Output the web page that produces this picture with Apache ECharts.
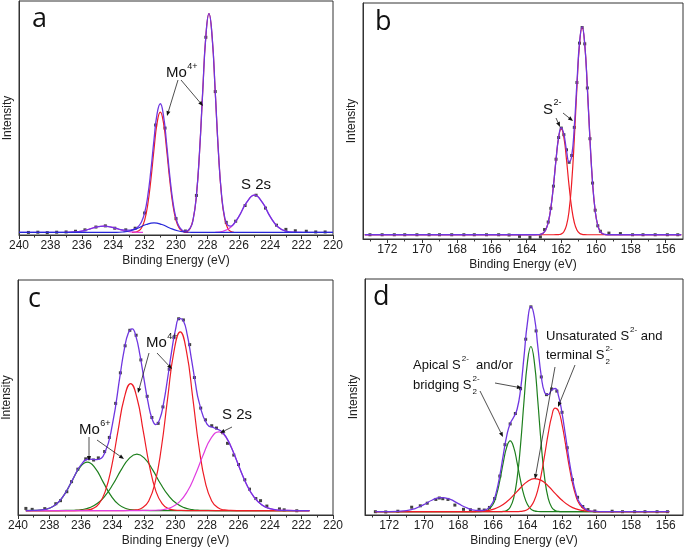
<!DOCTYPE html>
<html><head><meta charset="utf-8">
<script src="https://cdn.jsdelivr.net/npm/echarts@6/dist/echarts.min.js"></script>
<style>html,body{margin:0;padding:0;background:#fff}#c{width:685px;height:552px}</style>
</head><body><div id="c"></div>
<script>
// ---------- tick values ----------
const moTicks = [220,222,224,226,228,230,232,234,236,238,240];
const moMinor = [221,223,225,227,229,231,233,235,237,239];
const sTicks = [156,158,160,162,164,166,168,170,172];
const sMinor = [157,159,161,163,165,167,169,171,173];

// ---------- panel a (Mo 3d, fresh) ----------
const aEnv = [[240,1.1],[239,1.1],[238,1.1],[237,1.15],[236.5,1.3],[236,1.7],[235.5,2.55],[235,3.5],[234.6,3.8],[234.2,3.5],[233.8,2.8],[233.4,2.2],[233.0,2.05],[232.8,2.26],[232.6,2.72],[232.4,3.64],[232.2,5.54],[232.0,9.4],[231.8,16.6],[231.6,27.6],[231.4,40.8],[231.2,52.0],[231.0,56.1],[230.8,51.1],[230.6,39.2],[230.4,25.5],[230.2,14.4],[230.0,7.2],[229.8,3.57],[229.6,2.05],[229.4,1.62],[229.1,2.9],[228.9,6.97],[228.7,16.9],[228.5,35.6],[228.3,61.1],[228.1,84.8],[227.9,94.6],[227.7,84.8],[227.5,61.1],[227.3,35.8],[227.1,17.3],[226.9,7.66],[226.7,4.16],[226.5,3.83],[226.3,4.91],[226.0,7.86],[225.5,13.9],[225,17.0],[224.5,13.9],[224,7.86],[223.5,3.42],[223,1.62],[222.5,1.18],[222,1.1],[221,1.1],[220,1.1]];
const aMo32 = [[232.8,1.13],[232.6,1.24],[232.4,1.68],[232.2,3.0],[232.0,6.29],[231.8,13.0],[231.6,23.6],[231.4,36.7],[231.2,48.0],[231.0,52.5],[230.8,48.0],[230.6,36.7],[230.4,23.6],[230.2,13.0],[230.0,6.29],[229.8,3.0],[229.6,1.68],[229.4,1.24],[229.2,1.13]];
const aMo52 = [[229.5,1.17],[229.3,1.51],[229.1,2.82],[228.9,6.94],[228.7,16.9],[228.5,35.6],[228.3,61.1],[228.1,84.8],[227.9,94.6],[227.7,84.8],[227.5,61.1],[227.3,35.6],[227.1,16.9],[226.9,6.94],[226.7,2.82],[226.5,1.51],[226.3,1.17]];
const aBlue = [[240,1.1],[234.4,1.1],[233.9,1.13],[233.4,1.29],[232.9,1.83],[232.4,3.0],[231.9,4.48],[231.4,5.2],[230.9,4.48],[230.4,3.0],[229.9,1.83],[229.4,1.29],[228.9,1.13],[228.4,1.1],[220,1.1]];
const aSat = [[237.1,1.12],[236.6,1.22],[236.1,1.58],[235.6,2.35],[235.1,3.33],[234.6,3.8],[234.1,3.33],[233.6,2.35],[233.1,1.58],[232.6,1.22],[232.1,1.12]];
const aS2s = [[227.5,1.18],[227,1.62],[226.5,3.42],[226,7.86],[225.5,13.9],[225,17.0],[224.5,13.9],[224,7.86],[223.5,3.42],[223,1.62],[222.5,1.18],[222,1.1]];
const aDots = [[239.4,1.1],[238.8,1.2],[238.2,1.0],[237.6,1.2],[237.0,1.3],[236.4,1.6],[235.8,2.2],[235.1,3.4],[234.5,3.9],[233.9,2.9],[233.2,2.2],[232.6,2.9],[232.0,9.4],[231.3,47.0],[230.7,45.7],[230.0,7.0],[229.4,1.7],[228.7,16.9],[228.1,84.5],[227.5,61.3],[226.8,5.4],[226.2,5.9],[225.6,12.6],[224.9,17.0],[224.3,11.5],[223.6,4.2],[223.0,2.4],[222.4,1.8],[221.7,1.6],[221.1,1.3],[220.5,1.3]];

// ---------- panel b (S 2p, fresh) ----------
const bEnv = [[173.3,1.8],[170,1.8],[165,1.8],[163.5,1.8],[163.35,1.84],[163.2,1.98],[163.05,2.46],[162.9,3.81],[162.75,6.99],[162.6,13.1],[162.45,22.5],[162.3,33.7],[162.15,43.2],[162.0,47.2],[161.85,44.4],[161.7,37.6],[161.55,32.7],[161.4,35.2],[161.25,47.5],[161.1,66.1],[160.95,83.2],[160.8,90.0],[160.65,82.5],[160.5,64.1],[160.35,42.3],[160.2,23.9],[160.05,12.0],[159.9,5.7],[159.75,3.1],[159.6,2.15],[159.45,1.9],[159.3,1.8],[155.1,1.8]];
const bS32 = [[173.3,1.8],[162.45,1.8],[162.3,1.82],[162.15,1.88],[162.0,2.15],[161.85,3.08],[161.7,5.73],[161.55,12.0],[161.4,23.9],[161.25,42.3],[161.1,64.1],[160.95,82.5],[160.8,89.8],[160.65,82.5],[160.5,64.1],[160.35,42.3],[160.2,23.9],[160.05,12.0],[159.9,5.73],[159.75,3.08],[159.6,2.15],[159.45,1.88],[159.3,1.82],[159.15,1.8],[155.1,1.8]];
const bS12 = [[173.3,1.8],[163.5,1.8],[163.35,1.84],[163.2,1.98],[163.05,2.46],[162.9,3.81],[162.75,6.99],[162.6,13.1],[162.45,22.5],[162.3,33.7],[162.15,43.1],[162.0,46.8],[161.85,43.1],[161.7,33.7],[161.55,22.5],[161.4,13.1],[161.25,6.99],[161.1,3.81],[160.95,2.46],[160.8,1.98],[160.65,1.84],[160.5,1.8],[155.1,1.8]];
const bDots = [[173.0,1.8],[172.3,1.8],[171.6,1.8],[171.0,1.8],[170.3,1.8],[169.6,1.8],[169.0,1.8],[168.3,1.8],[167.6,1.8],[167.0,1.8],[166.3,1.8],[165.6,1.8],[165.0,1.7],[164.4,1.1],[163.8,0.7],[163.2,0.9],[162.96,4.0],[162.75,7.2],[162.6,13.0],[162.45,22.4],[162.3,33.8],[162.15,43.0],[162.0,47.0],[161.85,44.2],[161.7,37.8],[161.55,32.5],[161.4,35.4],[161.25,47.3],[161.1,66.3],[160.95,83.0],[160.8,89.6],[160.65,82.7],[160.5,64.0],[160.35,42.5],[160.2,23.7],[160.05,12.2],[159.9,5.6],[159.75,3.3],[159.26,2.5],[158.6,2.3],[157.9,1.8],[157.3,1.8],[156.6,1.8],[155.9,1.8],[155.3,1.8]];

// ---------- panel c (Mo 3d, treated) ----------
const cEnv = [[239.5,1.9],[239,1.95],[238.5,2.15],[238,2.9],[237.5,5.0],[237,9.3],[236.5,15.5],[236,21.3],[235.5,23.8],[235,23.6],[234.5,26.3],[234,38.8],[233.5,60.3],[233.25,70.5],[233,77.3],[232.75,79.2],[232.5,75.7],[232.25,67.8],[232,57.8],[231.75,48.2],[231.5,41.2],[231.25,38.5],[231,40.8],[230.75,47.8],[230.5,58.2],[230.25,69.4],[230,78.9],[229.75,83.7],[229.5,82.7],[229.25,76.5],[229,66.9],[228.75,56.7],[228.5,47.9],[228,38.7],[227.5,36.9],[227,35.1],[226.5,29.4],[226,21.2],[225.5,13.2],[225,7.5],[224.5,4.2],[224,2.7],[223.5,2.1],[223,1.96],[222.5,1.9],[221.5,1.9]];
const cMo6a = [[239.5,1.9],[239.1,1.93],[238.6,2.08],[238.1,2.68],[237.6,4.43],[237.1,8.23],[236.6,14.1],[236.1,19.97],[235.6,22.5],[235.1,19.97],[234.6,14.1],[234.1,8.23],[233.6,4.43],[233.1,2.68],[232.6,2.08],[232.1,1.93],[231.6,1.9],[221.5,1.9]];
const cMo6b = [[239.5,1.9],[237.45,1.9],[236.95,1.93],[236.45,2.02],[235.95,2.32],[235.45,3.13],[234.95,4.96],[234.45,8.32],[233.95,13.3],[233.45,19.2],[232.95,24.0],[232.45,25.9],[231.95,24.0],[231.45,19.2],[230.95,13.3],[230.45,8.32],[229.95,4.96],[229.45,3.13],[228.95,2.32],[228.45,2.02],[227.95,1.93],[227.45,1.9],[221.5,1.9]];
const cMo4a = [[239.5,1.9],[236.45,1.9],[236.05,1.93],[235.65,2.08],[235.25,2.71],[234.85,4.82],[234.45,10.25],[234.05,20.8],[233.65,35.8],[233.25,49.9],[232.85,55.9],[232.45,49.9],[232.05,35.8],[231.65,20.8],[231.25,10.25],[230.85,4.82],[230.45,2.71],[230.05,2.08],[229.65,1.93],[229.25,1.9],[221.5,1.9]];
const cMo4b = [[239.5,1.9],[233.3,1.9],[232.9,1.95],[232.5,2.15],[232.1,3.04],[231.7,6.0],[231.3,13.65],[230.9,28.5],[230.5,49.6],[230.1,69.5],[229.7,77.9],[229.3,69.5],[228.9,49.6],[228.5,28.5],[228.1,13.65],[227.7,6.0],[227.3,3.04],[226.9,2.15],[226.5,1.95],[226.1,1.9],[221.5,1.9]];
const cS2s = [[239.5,1.9],[232.25,1.9],[231.75,1.93],[231.25,2.02],[230.75,2.34],[230.25,3.29],[229.75,5.57],[229.25,10.0],[228.75,17.0],[228.25,25.4],[227.75,32.6],[227.25,35.4],[226.75,32.6],[226.25,25.4],[225.75,17.0],[225.25,10.0],[224.75,5.57],[224.25,3.29],[223.75,2.34],[223.25,2.02],[222.75,1.93],[222.25,1.9],[221.5,1.9]];
const cDots = [[239.5,2.8],[239.1,2.4],[238.3,2.7],[237.6,4.8],[237.3,6.1],[236.9,9.9],[236.6,14.2],[236.2,19.5],[235.7,23.9],[235.5,24.2],[235.2,23.4],[234.9,24.3],[234.5,27.0],[234.2,33.0],[233.8,47.5],[233.5,60.5],[233.2,72.0],[232.9,78.6],[232.5,76.5],[232.2,66.0],[231.8,50.5],[231.5,41.5],[231.1,39.0],[230.8,46.0],[230.4,62.0],[230.1,75.5],[229.8,83.5],[229.5,83.0],[229.1,72.5],[228.8,58.5],[228.4,45.5],[228.1,40.5],[227.7,38.0],[227.4,37.0],[227.0,35.0],[226.7,30.5],[226.3,25.5],[226.0,21.5],[225.6,15.0],[225.3,11.0],[224.9,7.0],[224.6,6.1],[224.2,3.8],[223.4,2.6],[223.1,2.2],[222.3,1.8]];

// ---------- panel d (S 2p, treated) ----------
const dEnv = [[172.8,1.4],[172,1.4],[171,1.83],[170.5,2.73],[170,4.4],[169.5,6.36],[169,7.39],[168.5,6.68],[168,4.8],[167.5,3.0],[167,2.0],[166.6,1.9],[166.3,2.6],[166.0,5.4],[165.8,9.8],[165.6,16.7],[165.4,25.4],[165.2,33.5],[165.0,38.8],[164.8,41.4],[164.6,44.8],[164.4,53.1],[164.2,67.1],[164.0,81.5],[163.8,88.4],[163.6,83.9],[163.4,71.4],[163.2,58.8],[163.0,51.8],[162.8,51.0],[162.6,53.0],[162.4,53.6],[162.2,50.4],[162.0,43.2],[161.8,33.7],[161.6,23.9],[161.4,15.5],[161.2,9.4],[161.0,5.5],[160.6,2.3],[160.2,1.6],[159.8,1.43],[159,1.4],[158,1.4],[157,1.4],[156,1.4],[155.8,1.4]];
const dApical = [[172.8,1.4],[167,1.4],[166.6,1.48],[166.3,2.02],[166,4.43],[165.8,8.32],[165.6,14.55],[165.4,22.19],[165.2,28.77],[165,31.4],[164.8,28.77],[164.6,22.19],[164.4,14.55],[164.2,8.32],[164,4.43],[163.8,2.51],[163.6,1.74],[163.4,1.48],[163.2,1.42],[162.8,1.4],[155.8,1.4]];
const dBridging = [[172.8,1.4],[166,1.4],[165.6,1.42],[165.4,1.51],[165.2,1.91],[165,3.27],[164.8,7.06],[164.6,15.4],[164.4,29.7],[164.2,48.2],[164,64.7],[163.8,71.4],[163.6,64.7],[163.4,48.2],[163.2,29.7],[163,15.4],[162.8,7.06],[162.6,3.27],[162.4,1.91],[162.2,1.51],[162,1.42],[161.6,1.4],[155.8,1.4]];
const dUnsat = [[172.8,1.4],[168,1.4],[167.5,1.41],[167,1.47],[166.6,1.63],[166.3,1.89],[166,2.38],[165.6,3.57],[165.2,5.58],[164.8,8.4],[164.4,11.56],[164,14.2],[163.6,15.39],[163.2,14.66],[162.8,12.31],[162.4,9.19],[162,6.22],[161.6,3.99],[161.2,2.61],[160.6,1.69],[160.2,1.5],[159.8,1.43],[159,1.4],[155.8,1.4]];
const dTerminal = [[172.8,1.4],[164.8,1.4],[164.6,1.43],[164.4,1.51],[164.2,1.75],[164,2.34],[163.8,3.65],[163.6,6.23],[163.4,10.65],[163.2,17.24],[163,25.6],[162.8,34.44],[162.6,41.7],[162.4,45.25],[162.2,44.02],[162,38.4],[161.8,30.08],[161.6,21.26],[161.4,13.68],[161.2,8.18],[161,4.74],[160.6,1.98],[160.2,1.46],[159.8,1.4],[155.8,1.4]];
const dDots = [[172.8,1.4],[172.2,1.3],[171.5,1.6],[170.7,3.3],[170.2,3.9],[169.8,5.0],[169.3,6.6],[169.1,7.2],[168.9,6.9],[168.6,6.6],[168.2,4.2],[167.7,2.4],[167.3,2.2],[166.8,2.4],[166.5,2.1],[166.2,3.2],[165.9,7.0],[165.6,16.5],[165.3,29.8],[165.0,38.6],[164.7,43.0],[164.4,53.5],[164.1,74.5],[163.8,88.2],[163.5,78.0],[163.2,58.5],[162.9,51.0],[162.6,53.4],[162.3,52.5],[162.0,43.5],[161.7,28.5],[161.4,15.0],[161.1,7.5],[160.8,3.6],[160.5,2.3],[160.1,1.7],[159.1,1.6],[158.5,1.4],[157.8,1.4],[157.2,1.4],[156.5,1.4],[155.9,1.4]];

// ---------- styling ----------
const FONT = '"Liberation Sans", Arial, sans-serif';
const C_ENV = '#6f36e0', C_RED = '#ee1c25', C_BLUE = '#2626d9', C_MAG = '#e03de0', C_GRN = '#1d7f1d';

const grids = [
  {left:19, top:1, width:314, height:234},
  {left:363, top:3, width:320, height:236},
  {left:17, top:280, width:316, height:235},
  {left:365, top:279, width:318, height:236}
];
const ranges = [[220,240,moTicks,moMinor],[155,173.4,sTicks,sMinor],[220,240,moTicks,moMinor],[155,173.4,sTicks,sMinor]];

const xAxes = [], yAxes = [];
grids.forEach((g,i)=>{
  const [mn,mx,tk,mi] = ranges[i];
  xAxes.push({type:'value', gridIndex:i, min:mn, max:mx, inverse:true, position:'bottom',
    axisLine:{show:true, onZero:false, lineStyle:{color:'#333', width:1}},
    axisTick:{show:true, customValues:tk, length:4, lineStyle:{color:'#333'}},
    axisLabel:{show:true, customValues:tk, margin:5, fontSize:12, color:'#222', fontFamily:FONT},
    splitLine:{show:false},
    name:'Binding Energy (eV)', nameLocation:'middle', nameGap:20,
    nameTextStyle:{fontSize:12, color:'#222', fontFamily:FONT}});
  xAxes.push({type:'value', gridIndex:i, min:mn, max:mx, inverse:true, position:'bottom',
    axisLine:{show:false, onZero:false},
    axisTick:{show:true, customValues:mi, length:2.5, lineStyle:{color:'#333'}},
    axisLabel:{show:false}, splitLine:{show:false}});
  yAxes.push({type:'value', gridIndex:i, min:0, max:100,
    axisLine:{show:true, lineStyle:{color:'#333'}}, axisTick:{show:false}, axisLabel:{show:false},
    splitLine:{show:false}, name:'Intensity', nameLocation:'middle', nameGap:5,
    nameTextStyle:{fontSize:12, color:'#222', fontFamily:FONT}});
});

function line(p, data, color, w){
  return {type:'line', xAxisIndex:2*p, yAxisIndex:p, data, smooth:true, symbol:'none',
    lineStyle:{color, width:w||1.2}, itemStyle:{color}, silent:true};
}
function dots(p, data){
  return {type:'scatter', xAxisIndex:2*p, yAxisIndex:p, data, symbol:'rect', symbolSize:3,
    itemStyle:{color:'#111'}, silent:true};
}

const series = [
  line(0,aMo32,C_RED), line(0,aMo52,C_RED), line(0,aSat,C_MAG), line(0,aS2s,C_MAG),
  line(0,aEnv,C_ENV,1.3), line(0,aBlue,C_BLUE), dots(0,aDots),
  line(1,bS32,C_RED), line(1,bS12,C_RED), line(1,bEnv,C_ENV,1.3), dots(1,bDots),
  line(2,cMo6a,C_GRN), line(2,cMo6b,C_GRN), line(2,cMo4a,C_RED), line(2,cMo4b,C_RED), line(2,cS2s,C_MAG),
  line(2,cEnv,C_ENV,1.3), dots(2,cDots),
  line(3,dApical,C_GRN), line(3,dBridging,C_GRN), line(3,dUnsat,C_RED), line(3,dTerminal,C_RED),
  line(3,dEnv,C_ENV,1.3), dots(3,dDots)
];

// ---------- annotations ----------
const gfx = [];
const mctx = document.createElement('canvas').getContext('2d');
function txt(x,y,s,size,fam){
  gfx.push({type:'text', x, y, z:100, style:{text:s, font:size+'px '+(fam||FONT), fill:'#111',
    textAlign:'left', textVerticalAlign:'middle'}});
}
// pieces laid out left to right; stack:true -> does not advance (for stacked sub/sup)
function rich(x, y, pieces){
  let cx = x;
  pieces.forEach(p=>{
    mctx.font = p.s + 'px ' + FONT;
    const w = mctx.measureText(p.t).width;
    txt(cx + (p.dx||0), y + (p.dy||0), p.t, p.s);
    if (!p.stack) cx += w + (p.dx||0);
  });
}
function arrow(x1,y1,x2,y2){
  const dx=x2-x1, dy=y2-y1, L=Math.hypot(dx,dy), ux=dx/L, uy=dy/L;
  const hl=5, hw=2, bx=x2-ux*hl, by=y2-uy*hl;
  gfx.push({type:'line', z:100, shape:{x1,y1,x2:bx,y2:by}, style:{stroke:'#222', lineWidth:0.8}});
  gfx.push({type:'polygon', z:100, shape:{points:[[x2,y2],[bx-uy*hw,by+ux*hw],[bx+uy*hw,by-ux*hw]]}, style:{fill:'#111'}});
}
const LET = '"Open Sans", "Liberation Sans", sans-serif';
txt(32,19,'a',27,LET); txt(375,22,'b',27,LET); txt(28,299,'c',27,LET); txt(373,297,'d',27,LET);
// panel a
rich(166,73,[{t:'Mo',s:15},{t:'4+',s:9,dy:-6,dx:0.5}]);
arrow(178,80,167,116); arrow(181,80,203,106);
txt(241,185,'S 2s',15);
// panel b
rich(543,110,[{t:'S',s:15},{t:'2-',s:9,dy:-7,dx:0.5}]);
arrow(556,118,560,127); arrow(563,113,573,121);
// panel c
rich(146,343,[{t:'Mo',s:15},{t:'4+',s:9,dy:-6,dx:0.5}]);
arrow(149,353,138,393); arrow(157,353,172,369);
rich(79,430,[{t:'Mo',s:15},{t:'6+',s:9,dy:-6,dx:0.5}]);
arrow(89,437,89,461); arrow(97,440,124,459);
txt(222,415,'S 2s',15);
arrow(232,427,220,433);
// panel d
rich(413,365,[{t:'Apical S',s:13},{t:'2-',s:8,dy:-6,dx:1},{t:'  and/or',s:13}]);
rich(413,385,[{t:'bridging S',s:13},{t:'2',s:8,dy:7,dx:1,stack:true},{t:'2-',s:8,dy:-6,dx:1}]);
arrow(480,391,503,437); arrow(495,383,522,388);
rich(546,336,[{t:'Unsaturated S',s:13},{t:'2-',s:8,dy:-6,dx:1},{t:' and',s:13}]);
rich(546,355,[{t:'terminal S',s:13},{t:'2',s:8,dy:7,dx:1,stack:true},{t:'2-',s:8,dy:-6,dx:1}]);
arrow(555,367,535,479); arrow(575,365,558,407);

const chart = echarts.init(document.getElementById('c'), null, {renderer:'canvas'});
chart.setOption({
  animation:false, backgroundColor:'#fff',
  grid: grids.map(g=>Object.assign({show:true, borderColor:'#333', borderWidth:1, backgroundColor:'transparent', containLabel:false}, g)),
  xAxis:xAxes, yAxis:yAxes, series, graphic:gfx
});
</script></body></html>
